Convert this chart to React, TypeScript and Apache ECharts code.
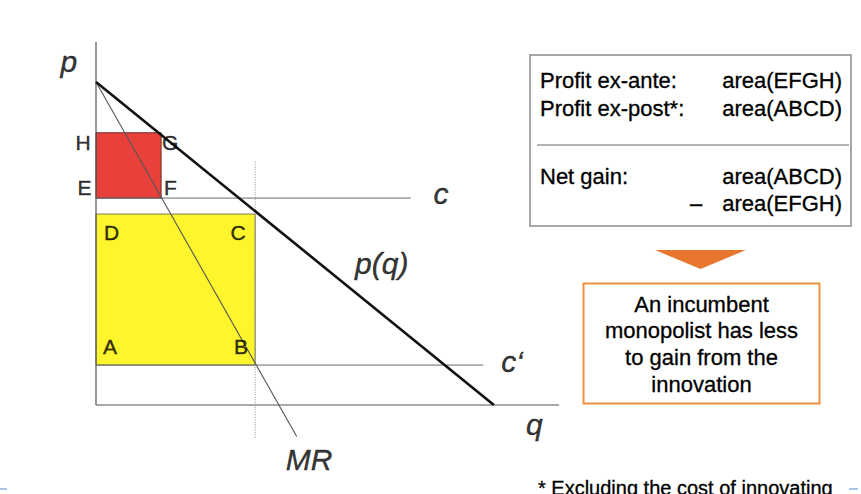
import React, { useEffect, useRef } from "react";
import * as echarts from "echarts";

// ---- data (economic units) ----
const demandQ = [0, 110];
const demandP = [89, 0];
const mrQ = [0, 55.5];
const mrP = [89, -8.7];
const costNames = ["c", "c‘"];
const costLevels = [57, 11];
const costLineEnds = [87, 107];
const rectNames = ["EFGH", "ABCD"];
const rectQ = [18, 44];
const rectPLow = [57, 11];
const rectPHigh = [75, 52.6];
const axisQMax = 128;
const axisPMax = 100;
const optQ = 44;
const optLineP = [67, -9];

const letterNames = ["H", "G", "E", "F", "D", "C", "A", "B"];
const letterQ = [-3.6, 20.5, -3.2, 20.6, 4.3, 39.3, 3.9, 40.1];
const letterP = [72.3, 72.3, 60.0, 60.0, 47.5, 47.5, 16.0, 16.0];

const curveNames = ["p", "q", "c", "c‘", "p(q)", "MR"];
const curveQ = [-7.5, 121.2, 95.4, 115.0, 79.0, 58.9];
const curveP = [94.6, -5.4, 58.3, 12.0, 39.0, -15.0];

const tableLeft = ["Profit ex-ante:", "Profit ex-post*:", "Net gain:"];
const tableRight = ["area(EFGH)", "area(ABCD)", "area(ABCD)", "area(EFGH)"];
const boxLines = ["An incumbent", "monopolist has less", "to gain from the", "innovation"];
const footnote = "* Excluding the cost of innovating";

const FONT = '"Liberation Sans", Arial, Helvetica, sans-serif';
const rectFill = ["#E8403A", "#FEF52C"];
const rectStroke = ["#6a3028", "#7a7a60"];

export default function App() {
  const ref = useRef<HTMLDivElement>(null);
  useEffect(() => {
    if (!ref.current) return;
    const chart = echarts.init(ref.current, null, { renderer: "svg" });
    const kx = 3.617;
    const ky = 3.63;
    const xMin = -10, xMax = 130, yMin = -20, yMax = 110;
    const lineSeries = (data: number[][], color: string, width: number, type: any = "solid") => ({
      type: "line",
      data,
      symbol: "none",
      silent: true,
      clip: false,
      lineStyle: { color, width, type },
      z: 3,
    });
    const labelSeries = (names: string[], qs: number[], ps: number[], size: number, style: string) => ({
      type: "scatter",
      symbolSize: 0,
      clip: false,
      silent: true,
      z: 5,
      data: names.map((n, i) => ({ name: n, value: [qs[i], ps[i]] })),
      label: {
        show: true,
        position: "inside",
        formatter: (p: any) => p.name,
        fontFamily: FONT,
        fontSize: size,
        fontStyle: style,
        color: "#000",
        textBorderColor: "#000",
        textBorderWidth: 0.4,
      },
    });
    const txt = (text: string, x: number, y: number, size: number, align: string, valign = "middle") => ({
      type: "text",
      x,
      y,
      style: {
        text,
        font: `${size}px ${FONT}`,
        fill: "#000",
        stroke: "#000",
        lineWidth: 0.3,
        textAlign: align,
        textVerticalAlign: valign,
      },
    });
    const option: any = {
      animation: false,
      grid: {
        left: 96 + xMin * kx,
        width: (xMax - xMin) * kx,
        top: 405 - yMax * ky,
        height: (yMax - yMin) * ky,
        containLabel: false,
      },
      xAxis: { type: "value", min: xMin, max: xMax, show: false },
      yAxis: { type: "value", min: yMin, max: yMax, show: false },
      series: [
        {
          type: "custom",
          clip: false,
          silent: true,
          z: 1,
          data: rectNames.map((n, i) => [rectQ[i], rectPLow[i], rectPHigh[i]]),
          renderItem: (params: any, api: any) => {
            const q = api.value(0);
            const lo = api.value(1);
            const hi = api.value(2);
            const a = api.coord([0, hi]);
            const b = api.coord([q, lo]);
            return {
              type: "rect",
              shape: { x: a[0], y: a[1], width: b[0] - a[0], height: b[1] - a[1] },
              style: { fill: rectFill[params.dataIndex], stroke: rectStroke[params.dataIndex], lineWidth: 1 },
            };
          },
        },
        lineSeries([[0, axisPMax], [0, 0], [axisQMax, 0]], "#555", 1.2),
        ...costLevels.map((c, i) => lineSeries([[0, c], [costLineEnds[i], c]], "#6a6a6a", 1)),
        lineSeries([[optQ, optLineP[0]], [optQ, optLineP[1]]], "#8a8a8a", 1, [1, 1.5]),
        lineSeries(mrQ.map((q, i) => [q, mrP[i]]), "#555", 1.1),
        lineSeries(demandQ.map((q, i) => [q, demandP[i]]), "#111", 2.6),
        labelSeries(letterNames, letterQ, letterP, 21, "normal"),
        labelSeries(curveNames, curveQ, curveP, 30, "italic"),
      ],
      graphic: [
        { type: "rect", shape: { x: 530, y: 55, width: 321, height: 171 }, style: { fill: "#fff", stroke: "#8a8a8a", lineWidth: 1.5 } },
        { type: "line", shape: { x1: 537, y1: 145, x2: 849, y2: 145 }, style: { stroke: "#9a9a9a", lineWidth: 1.5 } },
        ...tableLeft.map((t, i) => txt(t, 540, [80.7, 108.3, 176.7][i], 22, "left")),
        ...tableRight.map((t, i) => txt(t, 842, [80.7, 108.3, 176.7, 203.3][i], 22, "right")),
        txt("–", 690, 203.3, 22, "left"),
        { type: "polygon", shape: { points: [[655, 250], [746, 250], [700.5, 269]] }, style: { fill: "#E8762F" } },
        { type: "rect", shape: { x: 583.5, y: 283.5, width: 236, height: 120 }, style: { fill: "#fff", stroke: "#F0913C", lineWidth: 2 } },
        ...boxLines.map((t, i) => txt(t, 701.5, 304 + i * 26.7, 22, "center")),
        txt(footnote, 538, 478, 20, "left", "top"),
        { type: "line", shape: { x1: 0, y1: 489, x2: 7, y2: 489 }, style: { stroke: "#8AB0E0", lineWidth: 1.5 } },
        { type: "line", shape: { x1: 849, y1: 489, x2: 858, y2: 489 }, style: { stroke: "#8AB0E0", lineWidth: 1.5 } },
      ],
    };
    chart.setOption(option);
    return () => chart.dispose();
  }, []);
  return <div ref={ref} style={{ position: "fixed", left: 0, top: 0, width: 861, height: 494, background: "#fff" }} />;
}
